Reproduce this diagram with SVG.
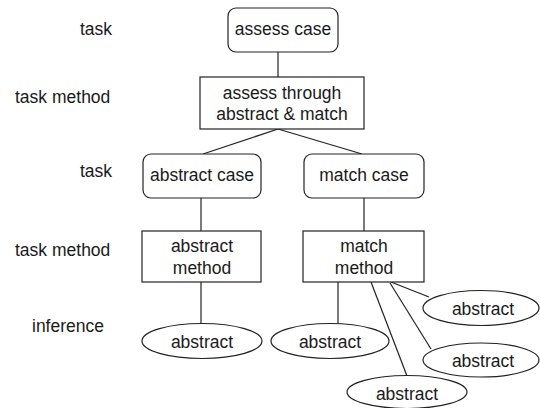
<svg xmlns="http://www.w3.org/2000/svg" width="540" height="408" viewBox="0 0 540 408">
<style>
text{font-family:"Liberation Sans",Arial,sans-serif;font-size:17.5px;fill:#1a1a1a}
.c{text-anchor:middle}
.n rect,.n ellipse{fill:#fff;stroke:#222;stroke-width:1.2}
#connectors line{stroke:#222;stroke-width:1.2}
</style>
<rect width="540" height="408" fill="#fff"/>
<g id="labels">
<text x="80" y="35">task</text>
<text x="15" y="103">task method</text>
<text x="80" y="177">task</text>
<text x="15" y="256">task method</text>
<text x="32" y="332">inference</text>
</g>
<g id="connectors">
<line x1="278" y1="52" x2="278" y2="77"/>
<line x1="278" y1="129" x2="203" y2="154"/>
<line x1="278" y1="129" x2="362" y2="154"/>
<line x1="201" y1="198" x2="201" y2="231"/>
<line x1="364" y1="198" x2="364" y2="231"/>
<line x1="201" y1="282" x2="201" y2="324"/>
<line x1="338" y1="282" x2="338" y2="324"/>
<line x1="391" y1="282" x2="429" y2="297"/>
<line x1="390" y1="283" x2="431" y2="349"/>
<line x1="371" y1="282" x2="407" y2="376"/>
</g>
<g id="assess-case" class="n"><rect x="228" y="8" width="110" height="44" rx="8"/><text class="c" x="283" y="35">assess case</text></g>
<g id="assess-through" class="n"><rect x="200" y="77" width="164" height="52"/><text class="c" x="282" y="99">assess through</text><text class="c" x="282" y="120">abstract &amp; match</text></g>
<g id="abstract-case" class="n"><rect x="143" y="154" width="118" height="44" rx="8"/><text class="c" x="202" y="181">abstract case</text></g>
<g id="match-case" class="n"><rect x="304" y="154" width="120" height="44" rx="8"/><text class="c" x="364" y="181">match case</text></g>
<g id="abstract-method" class="n"><rect x="142" y="231" width="119" height="51"/><text class="c" x="202" y="252">abstract</text><text class="c" x="202" y="274">method</text></g>
<g id="match-method" class="n"><rect x="303" y="231" width="121" height="51"/><text class="c" x="364" y="252">match</text><text class="c" x="364" y="274">method</text></g>
<g id="inf-1" class="n"><ellipse cx="202" cy="341" rx="60" ry="17.5"/><text class="c" x="202" y="348">abstract</text></g>
<g id="inf-2" class="n"><ellipse cx="330" cy="341" rx="59" ry="17.5"/><text class="c" x="330" y="348">abstract</text></g>
<g id="inf-3" class="n"><ellipse cx="481" cy="308" rx="58" ry="17.5"/><text class="c" x="483" y="315">abstract</text></g>
<g id="inf-4" class="n"><ellipse cx="481" cy="360" rx="58" ry="17"/><text class="c" x="483" y="367">abstract</text></g>
<g id="inf-5" class="n"><ellipse cx="407" cy="392" rx="60" ry="16.5"/><text class="c" x="407" y="400">abstract</text></g>
</svg>
